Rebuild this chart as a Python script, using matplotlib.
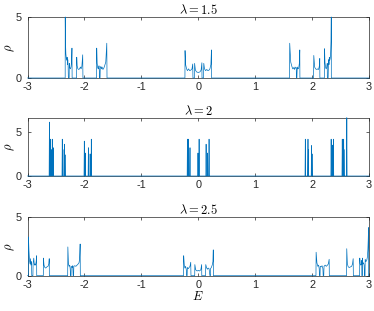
import numpy as np
import matplotlib
matplotlib.use("Agg")
import matplotlib.pyplot as plt

plt.rcParams["font.family"] = ["Liberation Sans", "DejaVu Sans"]
plt.rcParams["mathtext.fontset"] = "cm"
plt.rcParams["axes.unicode_minus"] = False
plt.rcParams["font.size"] = 7.5

# density of states rho(E) as (E, rho) vertices
pts_15 = [(-3.0, 0),
    (-2.338, 0), (-2.337, 5.0), (-2.333, 3.0), (-2.326, 2.0), (-2.318, 1.6), (-2.310, 1.45),
    (-2.303, 1.7), (-2.297, 1.1), (-2.292, 1.5), (-2.286, 0.9), (-2.282, 0),
    (-2.268, 0), (-2.266, 1.2), (-2.258, 0.85), (-2.246, 0.75), (-2.236, 0.9), (-2.226, 1.3),
    (-2.219, 2.45), (-2.216, 0),
    (-2.137, 0), (-2.135, 1.7), (-2.128, 1.0), (-2.115, 0.75), (-2.100, 0.7), (-2.085, 0.75),
    (-2.070, 0.9), (-2.058, 0.75), (-2.045, 0.95), (-2.030, 1.9), (-2.026, 0),
    (-1.786, 0), (-1.784, 2.45), (-1.776, 1.2), (-1.765, 0.8), (-1.752, 0.75), (-1.744, 1.0),
    (-1.738, 0.6), (-1.733, 0), (-1.725, 0), (-1.722, 0.8), (-1.712, 0.95), (-1.700, 0.75),
    (-1.690, 0.9), (-1.675, 0.7), (-1.660, 0.8), (-1.645, 1.0), (-1.625, 1.3), (-1.607, 2.85),
    (-1.603, 0),
    (-0.234, 0), (-0.232, 2.25), (-0.222, 1.1), (-0.205, 0.75), (-0.190, 0.6), (-0.170, 0.75),
    (-0.150, 0.6), (-0.130, 0.65), (-0.110, 0.75), (-0.097, 1.15), (-0.093, 0),
    (-0.066, 0), (-0.064, 1.2), (-0.050, 0.65), (-0.030, 0.5), (0.0, 0.45), (0.030, 0.5),
    (0.050, 0.65), (0.064, 1.25), (0.066, 0),
    (0.093, 0), (0.097, 1.2), (0.110, 0.75), (0.130, 0.6), (0.150, 0.7), (0.170, 0.6),
    (0.190, 0.65), (0.205, 0.75), (0.222, 1.1), (0.232, 2.3), (0.234, 0),
    (1.603, 0), (1.607, 2.85), (1.625, 1.3), (1.645, 0.95), (1.660, 0.75), (1.675, 0.85),
    (1.690, 0.7), (1.700, 0.9), (1.712, 0.8), (1.722, 0.85), (1.725, 0), (1.733, 0),
    (1.738, 0.7), (1.744, 0.9), (1.752, 0.75), (1.765, 0.8), (1.776, 1.2), (1.784, 2.3),
    (1.786, 0),
    (2.026, 0), (2.030, 1.85), (2.045, 0.9), (2.060, 0.75), (2.085, 0.7), (2.100, 0.75),
    (2.115, 0.7), (2.128, 1.0), (2.135, 1.6), (2.137, 0),
    (2.216, 0), (2.219, 2.4), (2.226, 1.3), (2.236, 0.9), (2.246, 0.75), (2.258, 0.85),
    (2.266, 1.2), (2.268, 0), (2.282, 0), (2.286, 0.9), (2.292, 1.5), (2.297, 1.1),
    (2.303, 1.7), (2.310, 1.45), (2.318, 1.6), (2.326, 2.0), (2.333, 3.0), (2.337, 5.0),
    (2.338, 0), (3.0, 0)]

# lambda = 2: narrow spikes (E, height)
spikes_20 = [(-2.615, 6.1), (-2.592, 4.17), (-2.585, 3.0), (-2.560, 4.17), (-2.548, 3.2),
    (-2.389, 4.17), (-2.378, 3.0), (-2.350, 3.6), (-2.340, 2.4),
    (-2.002, 3.95), (-1.985, 2.6), (-1.930, 3.2), (-1.900, 2.5), (-1.879, 4.17),
    (-0.190, 4.17), (-0.170, 4.17), (-0.145, 3.2), (-0.005, 2.6), (0.015, 4.17),
    (0.138, 3.6), (0.165, 2.6), (0.190, 4.17),
    (1.881, 4.17), (1.928, 4.17), (1.935, 3.0), (1.990, 3.45), (2.000, 2.5),
    (2.335, 4.17), (2.360, 3.5), (2.375, 4.17), (2.530, 4.17), (2.555, 4.17),
    (2.560, 3.0), (2.610, 6.6)]
spike_w = 0.005

pts_25 = [(-3.0, 0),
    (-2.985, 0), (-2.983, 3.3), (-2.975, 2.2), (-2.965, 1.3), (-2.955, 1.0), (-2.948, 1.45),
    (-2.940, 0.9), (-2.930, 1.2), (-2.925, 0), (-2.905, 0), (-2.902, 1.0), (-2.890, 1.5),
    (-2.880, 0.9), (-2.870, 1.0), (-2.858, 0.9), (-2.848, 1.2), (-2.840, 1.7), (-2.838, 0),
    (-2.722, 0), (-2.720, 1.5), (-2.710, 0.9), (-2.695, 0.7), (-2.680, 0.65), (-2.660, 0.75),
    (-2.640, 0.8), (-2.625, 1.0), (-2.618, 1.45), (-2.616, 0),
    (-2.294, 0), (-2.291, 2.45), (-2.280, 1.0), (-2.270, 0.8), (-2.258, 0.9), (-2.250, 0.6),
    (-2.243, 0), (-2.235, 0), (-2.232, 0.8), (-2.215, 0.7), (-2.205, 0.85), (-2.198, 0),
    (-2.190, 0), (-2.186, 0.8), (-2.170, 0.85), (-2.150, 0.8), (-2.130, 0.9), (-2.110, 1.0),
    (-2.095, 1.1), (-2.085, 1.4), (-2.075, 2.7), (-2.072, 0),
    (-0.258, 0), (-0.256, 1.7), (-0.245, 0.9), (-0.235, 0.65), (-0.222, 0.8), (-0.210, 0.5),
    (-0.205, 0), (-0.195, 0), (-0.192, 0.7), (-0.175, 0.6), (-0.160, 0.7), (-0.145, 0.8),
    (-0.132, 1.15), (-0.128, 0),
    (-0.062, 0), (-0.060, 0.95), (-0.045, 0.5), (-0.020, 0.4), (0.0, 0.45), (0.020, 0.4),
    (0.045, 0.5), (0.060, 0.95), (0.062, 0),
    (0.128, 0), (0.132, 0.95), (0.145, 0.7), (0.160, 0.55), (0.175, 0.65), (0.190, 0.6),
    (0.205, 0), (0.212, 0), (0.215, 0.6), (0.230, 0.7), (0.245, 0.9), (0.258, 1.2),
    (0.264, 2.2), (0.266, 0),
    (2.068, 0), (2.071, 2.0), (2.085, 1.1), (2.100, 0.8), (2.115, 0.9), (2.125, 0.6),
    (2.130, 0), (2.140, 0), (2.143, 0.8), (2.160, 0.75), (2.175, 0.85), (2.190, 0.6),
    (2.195, 0), (2.205, 0), (2.210, 0.8), (2.230, 0.9), (2.250, 0.8), (2.270, 0.9),
    (2.285, 1.0), (2.300, 1.4), (2.303, 0),
    (2.606, 0), (2.609, 2.3), (2.620, 1.0), (2.635, 0.75), (2.655, 0.7), (2.675, 0.75),
    (2.695, 0.8), (2.710, 1.0), (2.722, 1.45), (2.725, 0),
    (2.835, 0), (2.838, 1.5), (2.845, 1.0), (2.855, 0.9), (2.865, 1.0), (2.872, 1.3),
    (2.875, 0), (2.882, 0), (2.885, 1.5), (2.892, 1.0), (2.905, 1.1), (2.915, 0.9),
    (2.922, 0), (2.930, 0), (2.933, 1.4), (2.945, 1.2), (2.960, 1.3), (2.972, 1.6),
    (2.980, 2.2), (2.986, 3.0), (2.992, 4.1), (2.994, 0), (3.0, 0)]

# build the lambda=2 polyline from the spike list
pts_20 = [(-3.0, 0)]
for e, h in spikes_20:
    pts_20 += [(e - spike_w, 0), (e, h), (e + spike_w, 0)]
pts_20.append((3.0, 0))

titles = [r"$\lambda = 1.5$", r"$\lambda = 2$", r"$\lambda = 2.5$"]
ylims = [(0, 5), (0, 6.6), (0, 5)]
panels = [pts_15, pts_20, pts_25]

W, H = 374, 311
fig = plt.figure(figsize=(W / 100, H / 100), dpi=100)
boxes = [(17, 78), (117.7, 176), (217, 275.7)]
blue = "#0072BD"
axc = "#262626"

for k in range(3):
    top, bot = boxes[k]
    ax = fig.add_axes([27.5 / W, 1 - bot / H, 341.5 / W, (bot - top) / H])
    arr = np.array(panels[k])
    ax.plot(arr[:, 0], arr[:, 1], color=blue, lw=0.5, clip_on=False, zorder=3)
    ax.set_xlim(-3, 3)
    ax.set_ylim(*ylims[k])
    ax.set_xticks(np.arange(-3, 4, 1))
    ax.set_yticks([0, 5])
    ax.set_title(titles[k], fontsize=9, pad=2)
    ax.set_ylabel(r"$\rho$", fontsize=9, labelpad=-1)
    ax.tick_params(direction="in", top=True, right=True, length=2.5, width=0.5,
                   labelsize=7.8, colors=axc)
    ax.tick_params(axis="x", pad=3)
    ax.tick_params(axis="y", pad=4)
    for s in ax.spines.values():
        s.set_linewidth(0.5)
        s.set_color(axc)
    if k == 2:
        ax.set_xlabel(r"$E$", fontsize=9, labelpad=0)

fig.savefig("out.png", dpi=100)
